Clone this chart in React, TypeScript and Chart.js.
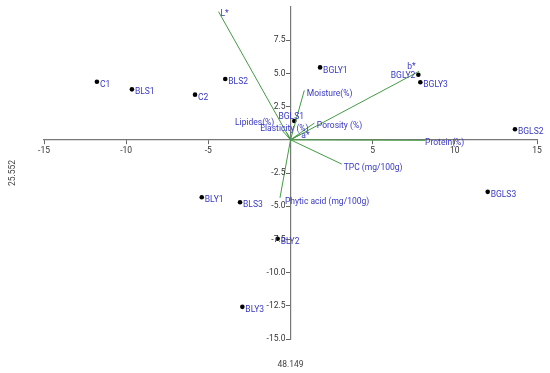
import { useEffect, useRef } from 'react';
import { Chart, registerables } from 'chart.js';

Chart.register(...registerables);

// Sample scores (PC1, PC2)
const sampleNames = ['C1', 'BLS1', 'C2', 'BLS2', 'BGLY1', 'BGLY2', 'BGLY3', 'BGLS1', 'BGLS2', 'BLY1', 'BLS3', 'BLY2', 'BLY3', 'BGLS3'];
const sampleX = [-11.78, -9.65, -5.81, -3.97, 1.8, 7.78, 7.9, 0.23, 13.66, -5.4, -3.07, -0.78, -2.93, 12.0];
const sampleY = [4.37, 3.8, 3.4, 4.58, 5.45, 4.9, 4.33, 1.42, 0.8, -4.33, -4.7, -7.45, -12.58, -3.92];

// Variable loadings (vectors from the origin)
const variableNames = ['L*', 'b*', 'Moisture(%)', 'Porosity (%)', 'Protein(%)', 'TPC (mg/100g)', 'Phytic acid (mg/100g)', 'Lipides(%)', 'Elasticity (%)', 'a*'];
const variableX = [-4.38, 7.83, 0.84, 1.45, 8.19, 3.12, -0.64, -0.5, -0.2, 0.6];
const variableY = [9.65, 5.16, 3.72, 1.26, -0.04, -1.83, -4.37, 0.7, 0.5, 0.4];

// Axis settings
const xMin = -15;
const xMax = 15;
const xStep = 5;
const yMin = -15;
const yMax = 10;
const yStep = 2.5;
const xAxisTitle = '48.149';
const yAxisTitle = '25.552';

type LabelLayout = { dx: number; dy: number; align: CanvasTextAlign };
const defaultSampleLayout: LabelLayout = { dx: 3, dy: 3, align: 'left' };
// label placement exceptions (pixel offsets)
const sampleLabelLayout: Record<string, LabelLayout> = {
  BGLS1: { dx: -3, dy: -4.5, align: 'center' },
  BGLY2: { dx: -3, dy: 1.5, align: 'right' },
};

const variableLabelLayout: LabelLayout[] = [
  { dx: 2, dy: 2, align: 'left' },
  { dx: -3.5, dy: -4.5, align: 'right' },
  { dx: 2.5, dy: 3, align: 'left' },
  { dx: 2.5, dy: 3, align: 'left' },
  { dx: 0, dy: 2.5, align: 'left' },
  { dx: 2, dy: 4, align: 'left' },
  { dx: 5, dy: 4, align: 'left' },
  { dx: -8, dy: -8, align: 'right' },
  { dx: -27, dy: -4.5, align: 'left' },
  { dx: 1, dy: 1.5, align: 'left' },
];

const LABEL_BLUE = '#3838c4';
const VECTOR_GREEN = '#449c44';
const TICK_TEXT = '#333333';
const FONT = 'Roboto';

const labelPlugin = {
  id: 'biplotLabels',
  afterDatasetsDraw(chart: any) {
    const { ctx, scales, chartArea } = chart;
    const xs = scales.x;
    const ys = scales.y;
    ctx.save();
    // y tick labels (left of the vertical axis)
    ctx.font = `8.5px ${FONT}`;
    ctx.fillStyle = TICK_TEXT;
    ctx.textAlign = 'right';
    ctx.textBaseline = 'middle';
    const axisX = xs.getPixelForValue(0);
    ys.ticks.forEach((t: any) => {
      const v = Number(t.value);
      if (v === 0 || v === yMax) return;
      ctx.fillText(v.toFixed(1), axisX - 5, ys.getPixelForValue(v));
    });

    ctx.fillStyle = LABEL_BLUE;
    // sample labels
    sampleNames.forEach((name, i) => {
      const px = xs.getPixelForValue(sampleX[i]);
      const py = ys.getPixelForValue(sampleY[i]);
      const l = sampleLabelLayout[name] || defaultSampleLayout;
      ctx.textAlign = l.align;
      ctx.fillText(name, px + l.dx, py + l.dy);
    });
    // variable labels
    variableNames.forEach((name, i) => {
      const px = xs.getPixelForValue(variableX[i]);
      const py = ys.getPixelForValue(variableY[i]);
      const l = variableLabelLayout[i];
      ctx.textAlign = l.align;
      ctx.fillText(name, px + l.dx, py + l.dy);
    });
    // axis titles
    ctx.fillStyle = '#444444';
    ctx.textAlign = 'center';
    const cx = (chartArea.left + chartArea.right) / 2;
    const cy = (chartArea.top + chartArea.bottom) / 2;
    ctx.fillText(xAxisTitle, cx, chart.height - 8);
    ctx.translate(13, cy);
    ctx.rotate(-Math.PI / 2);
    ctx.fillText(yAxisTitle, 0, 0);
    ctx.restore();
  },
};

export default function App() {
  const canvasRef = useRef<HTMLCanvasElement | null>(null);

  useEffect(() => {
    document.body.style.margin = '0';
    const canvas = canvasRef.current;
    if (!canvas) return;

    const vectorDatasets = variableNames.map((name, i) => ({
      type: 'line' as const,
      label: name,
      data: [
        { x: 0, y: 0 },
        { x: variableX[i], y: variableY[i] },
      ],
      borderColor: VECTOR_GREEN,
      borderWidth: 1,
      pointRadius: 0,
      showLine: true,
      fill: false,
      tension: 0,
    }));

    const chart = new Chart(canvas, {
      type: 'scatter',
      data: {
        datasets: [
          ...vectorDatasets,
          {
            type: 'scatter' as const,
            label: 'Samples',
            data: sampleNames.map((_, i) => ({ x: sampleX[i], y: sampleY[i] })),
            backgroundColor: '#000000',
            borderColor: '#000000',
            pointRadius: 2.3,
            borderWidth: 0,
          },
        ] as any,
      },
      options: {
        animation: false,
        responsive: false,
        devicePixelRatio: 1,
        layout: { padding: { left: 44, right: 13, top: 7, bottom: 34 } },
        plugins: {
          legend: { display: false },
          tooltip: { enabled: false },
        },
        scales: {
          x: {
            type: 'linear',
            min: xMin,
            max: xMax,
            position: { y: 0 } as any,
            grid: {
              drawOnChartArea: false,
              drawTicks: true,
              tickLength: 4,
              tickColor: '#666666',
            },
            border: { display: true, color: '#777777', width: 1.2 },
            ticks: {
              stepSize: xStep,
              color: TICK_TEXT,
              font: { family: FONT, size: 8.5 },
              padding: 2,
              maxRotation: 0,
              callback: (v: any) => (Number(v) === 0 ? '' : String(v)),
            },
          },
          y: {
            type: 'linear',
            min: yMin,
            max: yMax,
            position: { x: 0 } as any,
            grid: {
              drawOnChartArea: false,
              drawTicks: true,
              tickLength: 4,
              tickColor: (c: any) => (c.tick && c.tick.value === yMax ? 'rgba(0,0,0,0)' : '#666666'),
            },
            border: { display: true, color: '#777777', width: 1.2 },
            ticks: {
              stepSize: yStep,
              color: 'rgba(0,0,0,0)',
              font: { family: FONT, size: 8.5 },
              padding: 1,
              callback: () => '',
            },
          },
        },
      },
      plugins: [labelPlugin],
    });

    return () => chart.destroy();
  }, []);

  return (
    <div style={{ width: 550, height: 373 }}>
      <canvas ref={canvasRef} width={550} height={373} style={{ display: 'block' }} />
    </div>
  );
}
